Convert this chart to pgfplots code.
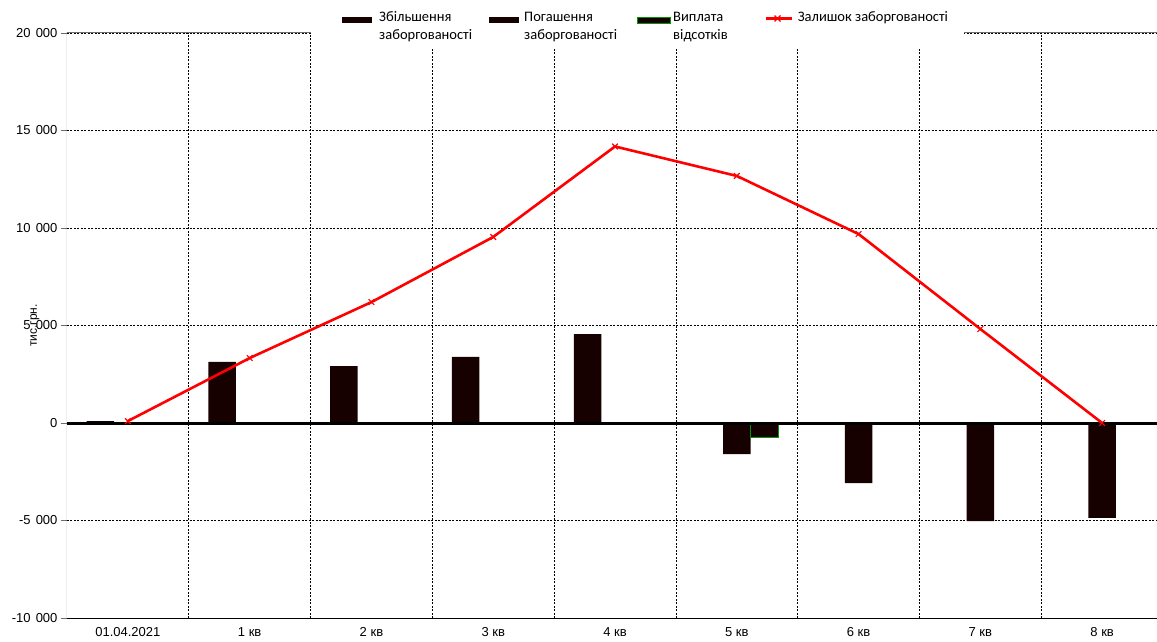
\documentclass[border=0pt]{standalone}
\usepackage{fontspec}
\setmainfont{Liberation Sans}
\newfontfamily\legendfont{Carlito}
\usepackage{pgfplots}
\pgfplotsset{compat=1.18}
\definecolor{barcol}{RGB}{22,0,0}
\definecolor{greenedge}{RGB}{0,150,0}
\definecolor{bordergray}{RGB}{110,110,110}
\newcommand{\ths}{\hspace{0.4em}}

\begin{document}
\begin{tikzpicture}[x=1pt,y=1pt]
\useasboundingbox (-67,-23) rectangle (1090,618);
\begin{axis}[
  at={(0,0)}, anchor=south west,
  scale only axis, width=1090pt, height=585pt,
  xmin=-0.5, xmax=8.45, ymin=-10000, ymax=20000,
  scaled y ticks=false,
  axis line style={draw=none},
  xtick={0,...,8},
  xticklabels={01.04.2021,1 кв,2 кв,3 кв,4 кв,5 кв,6 кв,7 кв,8 кв},
  xtick style={draw=none},
  minor xtick={0.5,1.5,...,7.5},
  xminorgrids,
  minor x grid style={black, dash pattern=on 2pt off 1.5pt, line width=0.6pt},
  ytick={-10000,-5000,0,5000,10000,15000,20000},
  yticklabels={-10\ths000,-5\ths000,0,5\ths000,10\ths000,15\ths000,20\ths000},
  ytick pos=left,
  tick align=outside,
  major tick length=6pt,
  ytick style={bordergray, line width=0.8pt},
  ymajorgrids,
  major grid style={black, dash pattern=on 2pt off 1.5pt, line width=0.6pt},
  tick label style={font=\fontsize{13}{15}\selectfont},
  ylabel={тис.грн.},
  ylabel style={at={(axis description cs:-0.0294,0.5)}, anchor=center, font=\fontsize{12}{14}\selectfont},
  legend columns=4,
  legend cell align=left,
  legend style={at={(axis description cs:0.2239,1.053)}, anchor=north west,
    draw=none, fill=white, font=\legendfont\fontsize{14.5}{18}\selectfont,
    inner xsep=4pt, inner ysep=5pt,
    /tikz/every even column/.append style={column sep=0pt}},
]
% increase of debt
\addplot[ybar, bar width=27.5pt, bar shift=-27.5pt, fill=barcol, draw=none,
  legend image code/.code={\path (0pt,0pt) (0pt,18pt); \fill[barcol] (27pt,3pt) rectangle (57pt,9pt);}]
  coordinates {(0,100) (1,3130) (2,2920) (3,3390) (4,4560)};
\addlegendentry{\hspace*{5pt}\parbox[b]{108pt}{Збільшення\\заборгованості}}
% repayment of debt
\addplot[ybar, bar width=27.5pt, bar shift=0pt, fill=barcol, draw=none,
  legend image code/.code={\path (0pt,0pt) (0pt,18pt); \fill[barcol] (0pt,3pt) rectangle (30pt,9pt);}]
  coordinates {(5,-1590) (6,-3080) (7,-5030) (8,-4870)};
\addlegendentry{\hspace*{3pt}\parbox[b]{111pt}{Погашення\\заборгованості}}
% interest payments
\addplot[ybar, bar width=27.5pt, bar shift=27.5pt, fill=barcol, draw=greenedge, line width=1pt,
  legend image code/.code={\path (0pt,0pt) (0pt,18pt); \filldraw[fill=barcol, draw=greenedge, line width=1pt] (0pt,3pt) rectangle (33pt,9pt);}]
  coordinates {(5,-720)};
\addlegendentry{\parbox[b]{89pt}{Виплата\\відсотків}}
% zero line and frame
\draw[black, line width=3pt] (axis cs:-0.5,0) -- (axis cs:8.45,0);
\draw[bordergray, line width=1pt] (rel axis cs:0,0) -- (rel axis cs:0,1) -- (rel axis cs:1,1);
\draw[black, line width=0.8pt] (rel axis cs:0,0) -- (rel axis cs:1,0);
% outstanding debt
\addplot[red, line width=2.6pt, mark=x, mark size=4pt, mark options={line width=1.2pt},
  legend image code/.code={\path (0pt,0pt) (0pt,18pt); \draw[red, line width=2.6pt] (0pt,8pt) -- (26pt,8pt);
    \draw[red, line width=1.2pt] (9pt,5pt) -- (15pt,11pt) (9pt,11pt) -- (15pt,5pt);}]
  coordinates {(0,100) (1,3330) (2,6200) (3,9540) (4,14180) (5,12670) (6,9690) (7,4820) (8,0)};
\addlegendentry{\hspace*{3pt}\parbox[b]{160pt}{Залишок заборгованості\\\mbox{}}}
\end{axis}
\end{tikzpicture}
\end{document}
